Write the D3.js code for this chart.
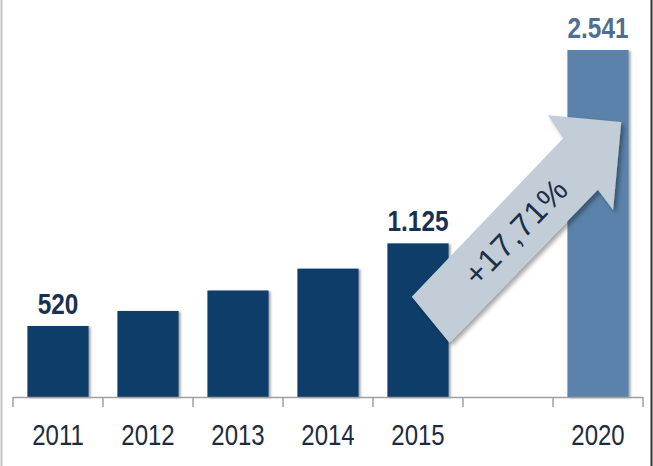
<!DOCTYPE html>
<html>
<head>
<meta charset="utf-8">
<script src="https://cdn.jsdelivr.net/npm/d3@7"></script>
<style>
  html, body { margin: 0; padding: 0; background: #fff; }
  svg { display: block; }
</style>
</head>
<body>
<svg id="chart" width="653" height="466"></svg>
<script>
// ---- data ----
const slots = ["2011", "2012", "2013", "2014", "2015", "gap", "2020"];
const years = ["2011", "2012", "2013", "2014", "2015", "2020"];
const values = [520, 630, 780, 940, 1125, 2541];
const valueLabels = ["520", "", "", "", "1.125", "2.541"];
const forecastYears = ["2020"];
const growthLabel = "+17,71%";

const W = 653, H = 466;
const svg = d3.select("#chart");
const font = "'Liberation Sans', Arial, sans-serif";

// condense text to imitate a narrow face
function condense(sel, k) {
  sel.each(function () {
    const w = this.getComputedTextLength();
    d3.select(this).attr("textLength", w * k).attr("lengthAdjust", "spacingAndGlyphs");
  });
}

const x = d3.scaleBand().domain(slots).range([13, 643]).paddingInner(0.32).paddingOuter(0.16);
const y = d3.scaleLinear().domain([0, 2541]).range([397, 50]);

const defs = svg.append("defs");
const f = defs.append("filter").attr("id", "shadow").attr("x", "-20%").attr("y", "-20%").attr("width", "140%").attr("height", "140%");
f.append("feDropShadow").attr("dx", 2).attr("dy", 1).attr("stdDeviation", 1.2).attr("flood-color", "#000").attr("flood-opacity", 0.35);
const f2 = defs.append("filter").attr("id", "ashadow").attr("x", "-20%").attr("y", "-20%").attr("width", "140%").attr("height", "140%");
f2.append("feDropShadow").attr("dx", 3).attr("dy", 3).attr("stdDeviation", 2).attr("flood-color", "#000").attr("flood-opacity", 0.35);

// frame lines
svg.append("line").attr("x1", 1.5).attr("x2", 1.5).attr("y1", 0).attr("y2", H).attr("stroke", "#c4c4c4").attr("stroke-width", 2);
svg.append("line").attr("x1", 651.5).attr("x2", 651.5).attr("y1", 0).attr("y2", H).attr("stroke", "#333").attr("stroke-width", 2);

const data = years.map((yr, i) => ({ year: yr, value: values[i], label: valueLabels[i], forecast: forecastYears.includes(yr) }));

// bars
svg.append("g").selectAll("rect").data(data).join("rect")
  .attr("x", d => x(d.year))
  .attr("y", d => y(d.value))
  .attr("width", x.bandwidth())
  .attr("height", d => y(0) - y(d.value))
  .attr("fill", d => d.forecast ? "#5a82aa" : "#0f3e68")
  .attr("filter", "url(#shadow)");

// axis line and ticks at band boundaries
const step = x.step();
const boundaries = slots.map(s => x(s) - step * x.paddingInner() / 2).concat([x(slots[slots.length - 1]) + x.bandwidth() + step * x.paddingInner() / 2]);
const ax = svg.append("g");
ax.append("line").attr("x1", boundaries[0]).attr("x2", boundaries[boundaries.length - 1])
  .attr("y1", y(0) + 0.5).attr("y2", y(0) + 0.5).attr("stroke", "#a0a0a0").attr("stroke-width", 1.5);
ax.selectAll("line.tick").data(boundaries).join("line").attr("class", "tick")
  .attr("x1", d => d).attr("x2", d => d).attr("y1", y(0)).attr("y2", y(0) + 10)
  .attr("stroke", "#a0a0a0").attr("stroke-width", 1.5);
ax.selectAll("text").data(years).join("text")
  .attr("x", d => x(d) + x.bandwidth() / 2)
  .attr("y", 445)
  .attr("text-anchor", "middle")
  .attr("font-family", font)
  .attr("font-size", 30)
  .attr("fill", "#1c2c40")
  .text(d => d)
  .call(condense, 0.8);

// value labels
svg.append("g").selectAll("text").data(data.filter(d => d.label)).join("text")
  .attr("x", d => x(d.year) + x.bandwidth() / 2)
  .attr("y", d => y(d.value) - 12)
  .attr("text-anchor", "middle")
  .attr("font-family", font)
  .attr("font-weight", "bold")
  .attr("font-size", 29)
  .attr("fill", d => d.forecast ? "#4f6f90" : "#1a3050")
  .text(d => d.label)
  .call(condense, 0.84);

// growth arrow (annotation), anchored on the 2015 and 2020 bars
const T = [x("2015") + x.bandwidth() * 0.7, y(0) - 77];
const P = [x("2020") + x.bandwidth() * 0.88, y(2541) + 72];
const len = Math.hypot(P[0] - T[0], P[1] - T[1]);
const u = [(P[0] - T[0]) / len, (P[1] - T[1]) / len];
const n = [-u[1], u[0]];
const s = len / 275;
const local = [[4, -29.5], [223, -30.5], [229, -57.5], [275, 0], [206, 55.3], [210, 30.3], [-3, 29.5]];
const pts = local.map(([a, b]) => [T[0] + u[0] * a * s + n[0] * b, T[1] + u[1] * a * s + n[1] * b]);
svg.append("polygon").attr("points", pts.map(p => p.join(",")).join(" "))
  .attr("fill", "#c3cdd8").attr("filter", "url(#ashadow)");
const ang = Math.atan2(u[1], u[0]) * 180 / Math.PI;
const c = [T[0] + u[0] * 123 * s, T[1] + u[1] * 123 * s];
svg.append("text")
  .attr("transform", `translate(${c[0]},${c[1]}) rotate(${ang})`)
  .attr("text-anchor", "middle")
  .attr("dy", "0.36em")
  .attr("font-family", font)
  .attr("font-size", 32)
  .attr("letter-spacing", 1)
  .attr("fill", "#1c2f48")
  .text(growthLabel);
</script>
</body>
</html>
